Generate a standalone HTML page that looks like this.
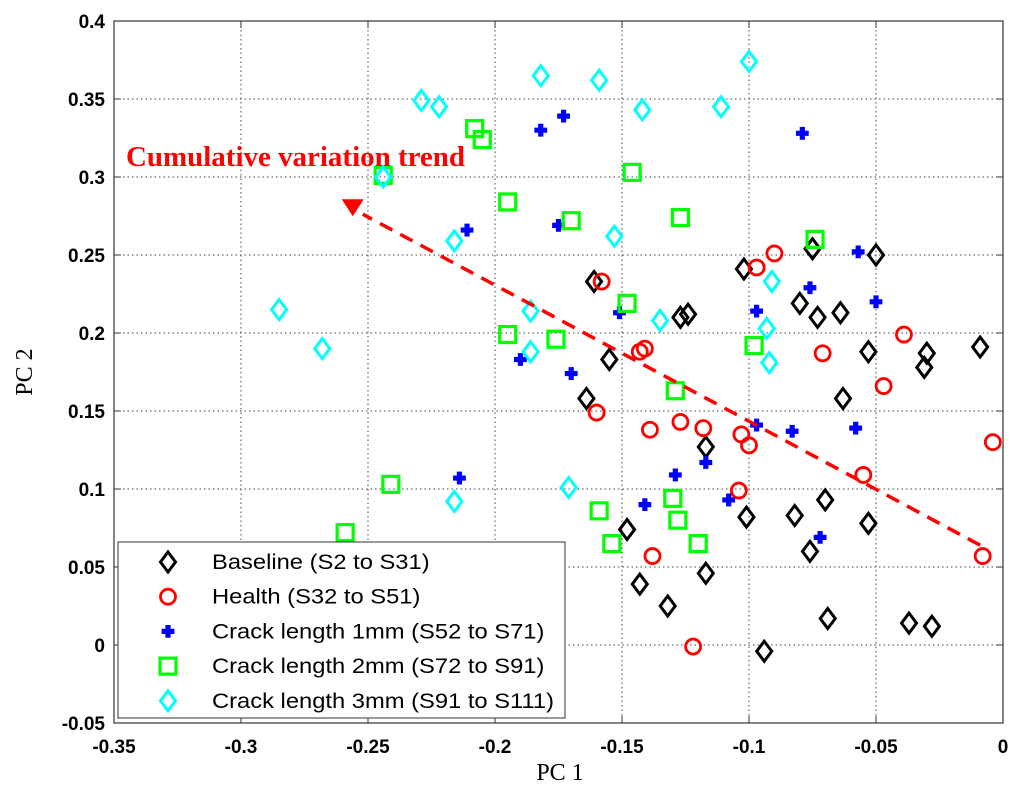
<!DOCTYPE html>
<html><head><meta charset="utf-8"><style>
html,body{margin:0;padding:0;background:#fff;}
svg{display:block;font-family:"Liberation Sans",Arial,sans-serif;}
</style></head><body>
<svg id="chart" width="1024" height="794" viewBox="0 0 1024 794">
<rect x="0" y="0" width="1024" height="794" fill="#fff"/>
<g id="grid"></g>
<g id="axes"></g>
<g id="marks"></g>
<g id="trend"></g>
<text x="126" y="166" fill="#ff0000" font-family="'Liberation Serif',serif" font-weight="bold" font-size="28" textLength="339" lengthAdjust="spacingAndGlyphs">Cumulative variation trend</text>
<text x="560" y="780" text-anchor="middle" font-family="'Liberation Serif',serif" font-size="24">PC 1</text>
<text x="32" y="372" text-anchor="middle" font-family="'Liberation Serif',serif" font-size="24" transform="rotate(-90 32 372)">PC 2</text>
<g id="legend"></g>
</svg>
<script>
const xTicks=[-0.35,-0.3,-0.25,-0.2,-0.15,-0.1,-0.05,0];
const xTickLabels=["-0.35","-0.3","-0.25","-0.2","-0.15","-0.1","-0.05","0"];
const yTicks=[-0.05,0,0.05,0.1,0.15,0.2,0.25,0.3,0.35,0.4];
const yTickLabels=["-0.05","0","0.05","0.1","0.15","0.2","0.25","0.3","0.35","0.4"];
const baselineX=[-0.161,-0.155,-0.164,-0.148,-0.143,-0.132,-0.127,-0.124,-0.117,-0.117,-0.102,-0.101,-0.094,-0.080,-0.082,-0.075,-0.073,-0.070,-0.076,-0.069,-0.063,-0.064,-0.050,-0.053,-0.053,-0.031,-0.030,-0.037,-0.028,-0.009];
const baselineY=[0.233,0.183,0.158,0.074,0.039,0.025,0.210,0.212,0.046,0.127,0.241,0.082,-0.004,0.219,0.083,0.254,0.210,0.093,0.060,0.017,0.158,0.213,0.250,0.188,0.078,0.178,0.187,0.014,0.012,0.191];
const healthX=[-0.158,-0.160,-0.143,-0.141,-0.139,-0.138,-0.127,-0.118,-0.122,-0.103,-0.100,-0.104,-0.097,-0.090,-0.071,-0.055,-0.039,-0.047,-0.004,-0.008];
const healthY=[0.233,0.149,0.188,0.190,0.138,0.057,0.143,0.139,-0.001,0.135,0.128,0.099,0.242,0.251,0.187,0.109,0.199,0.166,0.130,0.057];
const crack1X=[-0.173,-0.182,-0.211,-0.175,-0.151,-0.190,-0.170,-0.214,-0.141,-0.129,-0.117,-0.108,-0.097,-0.097,-0.076,-0.079,-0.083,-0.072,-0.057,-0.058,-0.050];
const crack1Y=[0.339,0.330,0.266,0.269,0.213,0.183,0.174,0.107,0.090,0.109,0.117,0.093,0.214,0.141,0.229,0.328,0.137,0.069,0.252,0.139,0.220];
const crack2X=[-0.208,-0.205,-0.244,-0.195,-0.170,-0.146,-0.127,-0.148,-0.195,-0.176,-0.098,-0.074,-0.129,-0.241,-0.259,-0.159,-0.130,-0.128,-0.154,-0.120];
const crack2Y=[0.331,0.324,0.301,0.284,0.272,0.303,0.274,0.219,0.199,0.196,0.192,0.260,0.163,0.103,0.072,0.086,0.094,0.080,0.065,0.065];
const crack3X=[-0.229,-0.222,-0.182,-0.159,-0.100,-0.111,-0.142,-0.244,-0.216,-0.153,-0.186,-0.285,-0.268,-0.186,-0.135,-0.092,-0.091,-0.093,-0.216,-0.171];
const crack3Y=[0.349,0.345,0.365,0.362,0.374,0.345,0.343,0.300,0.259,0.262,0.214,0.215,0.190,0.188,0.208,0.181,0.233,0.203,0.092,0.101];
const trendX=[-0.009,-0.256];
const trendY=[0.064,0.280];

const L=114,R=1003,T=21,B=723;
const xS=v=>R+(v-0)*(R-L)/0.35;
const yS=v=>B-(v+0.05)*(B-T)/0.45;
const NS="http://www.w3.org/2000/svg";
function mk(tag,attrs,parent){const e=document.createElementNS(NS,tag);for(const k in attrs)e.setAttribute(k,attrs[k]);parent.appendChild(e);return e;}
const grid=document.getElementById('grid'),axes=document.getElementById('axes'),marks=document.getElementById('marks'),trend=document.getElementById('trend'),legend=document.getElementById('legend');
xTicks.forEach((t,i)=>{const x=xS(t);
 if(i>0&&i<xTicks.length-1){const g=mk('line',{x1:x,x2:x,y1:T,y2:B,stroke:'#444','stroke-width':1,'stroke-dasharray':'1.5,3'},grid);}
 mk('line',{x1:x,x2:x,y1:B,y2:B-7,stroke:'#333'},axes);mk('line',{x1:x,x2:x,y1:T,y2:T+7,stroke:'#333'},axes);
 const tx=mk('text',{x:x,y:B+30,'text-anchor':'middle','font-size':19,'font-weight':'bold'},axes);tx.textContent=xTickLabels[i];
 });
yTicks.forEach((t,i)=>{const y=yS(t);
 if(i>0&&i<yTicks.length-1){const g=mk('line',{x1:L,x2:R,y1:y,y2:y,stroke:'#444','stroke-width':1,'stroke-dasharray':'1.5,3'},grid);}
 mk('line',{x1:L,x2:L+7,y1:y,y2:y,stroke:'#333'},axes);mk('line',{x1:R,x2:R-7,y1:y,y2:y,stroke:'#333'},axes);
 const tx=mk('text',{x:L-9,y:y+7,'text-anchor':'end','font-size':19,'font-weight':'bold'},axes);tx.textContent=yTickLabels[i];
 });
mk('rect',{x:L,y:T,width:R-L,height:B-T,fill:'none',stroke:'#333','stroke-width':1.2},axes);

function marker(type,x,y,parent){
 if(type==='diamond')return mk('path',{d:`M${x} ${y-10}L${x+7.5} ${y}L${x} ${y+10}L${x-7.5} ${y}Z`,fill:'none',stroke:'#000','stroke-width':3},parent);
 if(type==='cdiamond')return mk('path',{d:`M${x} ${y-10}L${x+7.5} ${y}L${x} ${y+10}L${x-7.5} ${y}Z`,fill:'none',stroke:'#00ffff','stroke-width':3},parent);
 if(type==='circle')return mk('circle',{cx:x,cy:y,r:7.5,fill:'none',stroke:'#ff0000','stroke-width':2.8},parent);
 if(type==='square')return mk('rect',{x:x-8,y:y-8,width:16,height:16,fill:'none',stroke:'#00ff00','stroke-width':3.2},parent);
 if(type==='plus')return mk('path',{d:`M${x-2.2} ${y-6}h4.4v3.8h3.8v4.4h-3.8v3.8h-4.4v-3.8h-3.8v-4.4h3.8Z`,fill:'#0000ff',stroke:'#0000ff','stroke-width':0.8},parent);
}
const series=[['diamond',baselineX,baselineY,'baseline-point'],['circle',healthX,healthY,'health-point'],['plus',crack1X,crack1Y,'crack-1mm-point'],['square',crack2X,crack2Y,'crack-2mm-point'],['cdiamond',crack3X,crack3Y,'crack-3mm-point']];
series.forEach(s=>{s[1].forEach((v,i)=>{const m=marker(s[0],xS(v),yS(s[2][i]),marks);
 
 });});

const x0=xS(trendX[0]),y0=yS(trendY[0]),x1=xS(trendX[1]),y1=yS(trendY[1]);
const tl=mk('line',{x1:x0,y1:y0,x2:x1+10,y2:y1+6,stroke:'#ff0000','stroke-width':3.5,'stroke-dasharray':'14,9'},trend);

const th=mk('path',{d:`M${x1-11} ${y1-9}L${x1+11} ${y1-9}L${x1} ${y1+8}Z`,fill:'#ff0000'},trend);


const lb=mk('rect',{x:118,y:542,width:447,height:176,fill:'#fff',stroke:'#333','stroke-width':1},legend);

const labels=['Baseline (S2 to S31)','Health (S32 to S51)','Crack length 1mm (S52 to S71)','Crack length 2mm (S72 to S91)','Crack length 3mm (S91 to S111)'];
const ltypes=['diamond','circle','plus','square','cdiamond'];
labels.forEach((lab,i)=>{const y=562+i*34.7;
 const g=mk('g',{},legend);
 marker(ltypes[i],168,y,g);
 const t=mk('text',{x:212,y:y+7,'font-size':21},g);t.textContent=lab;
 const w=t.getComputedTextLength();
 t.setAttribute('textLength',(w*1.13).toFixed(1));
 t.setAttribute('lengthAdjust','spacingAndGlyphs');});
</script>
</body></html>
